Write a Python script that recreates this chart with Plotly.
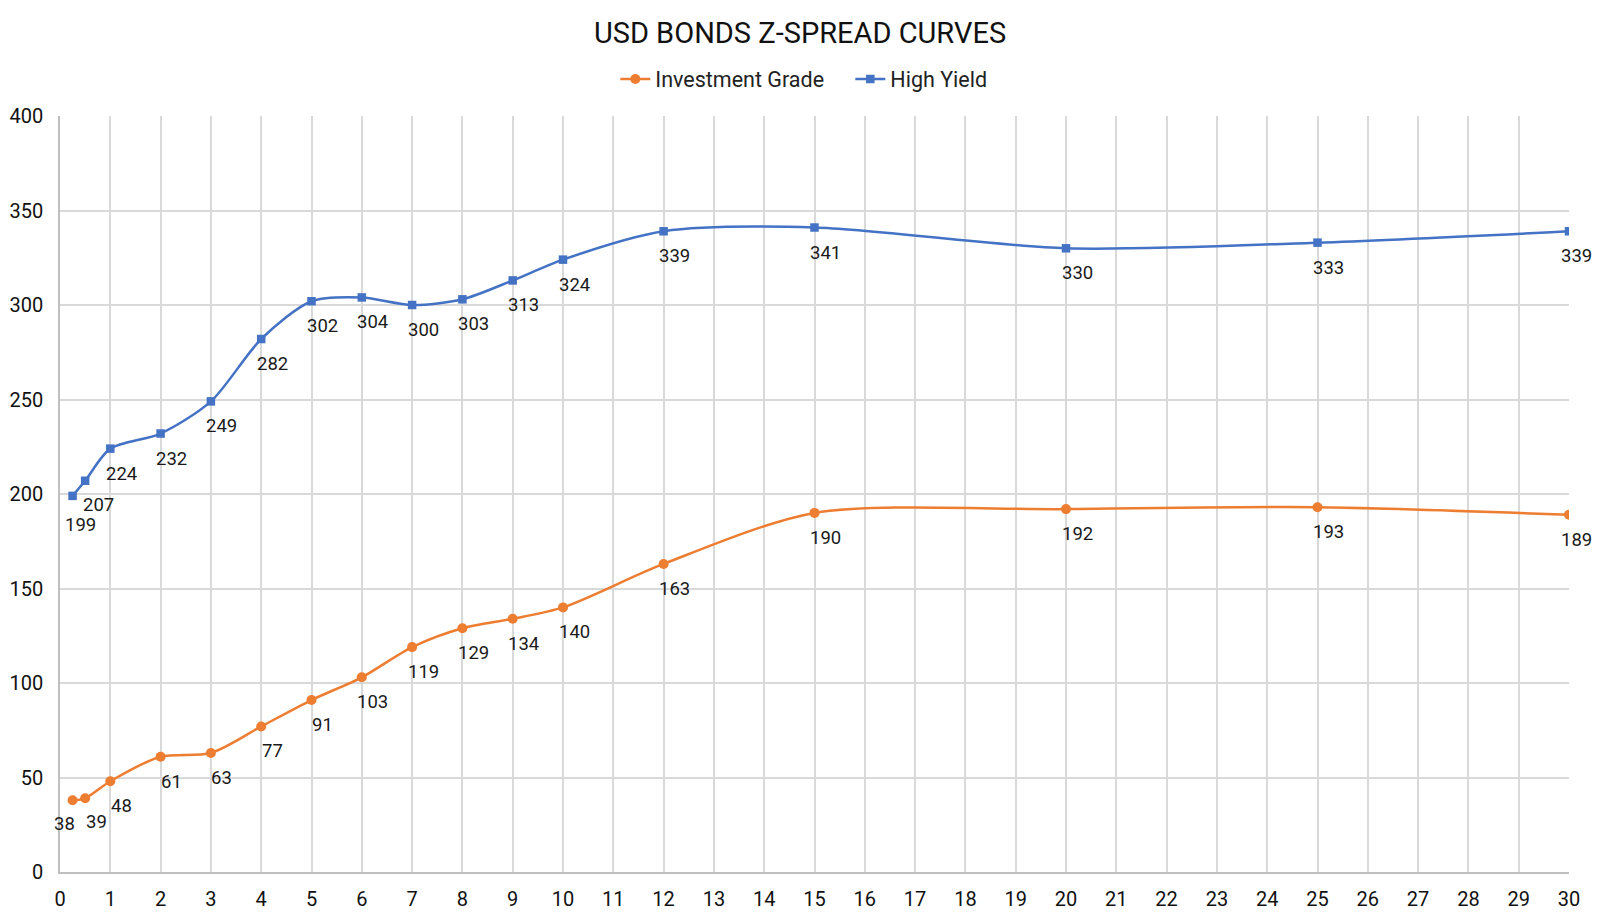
import plotly.graph_objects as go

# Tenors (years) and Z-spreads (bp)
tenors = [0.25, 0.5, 1, 2, 3, 4, 5, 6, 7, 8, 9, 10, 12, 15, 20, 25, 30]
ig_spread = [38, 39, 48, 61, 63, 77, 91, 103, 119, 129, 134, 140, 163, 190, 192, 193, 189]
hy_spread = [199, 207, 224, 232, 249, 282, 302, 304, 300, 303, 313, 324, 339, 341, 330, 333, 339]

FONT = "Roboto"
IG_COLOR = '#ED7D31'
HY_COLOR = '#4472C4'

# default label offset (px) and a few hand-nudged ones to avoid overlaps / edge
LABEL_DX, LABEL_DY = 11, -25
ig_nudge = {0.25: (-8, -24), 0.5: (11, -24), 30: (7, -25)}
hy_nudge = {0.25: (8, -29), 0.5: (13, -24), 30: (7, -25)}

fig = go.Figure()

fig.add_trace(go.Scatter(
    x=tenors, y=ig_spread,
    name='Investment Grade',
    mode='lines+markers',
    line=dict(color=IG_COLOR, width=2.5, shape='spline', smoothing=0.8),
    marker=dict(symbol='circle', size=10, color=IG_COLOR),
))

fig.add_trace(go.Scatter(
    x=tenors, y=hy_spread,
    name='High Yield',
    mode='lines+markers',
    line=dict(color=HY_COLOR, width=2.5, shape='spline', smoothing=0.8),
    marker=dict(symbol='square', size=8.5, color=HY_COLOR),
))

# data labels
for series, nudge in ((ig_spread, ig_nudge), (hy_spread, hy_nudge)):
    for t, v in zip(tenors, series):
        dx, dy = nudge.get(t, (LABEL_DX, LABEL_DY))
        fig.add_annotation(
            x=t, y=v, text=str(v), showarrow=False,
            xshift=dx, yshift=dy,
            font=dict(size=18.5, color='#1a1a1a', family=FONT)
        )

fig.update_layout(
    title=dict(text='USD BONDS Z-SPREAD CURVES', x=0.5, y=0.9726, xanchor='center',
               yanchor='middle', xref='container', yref='container',
               font=dict(size=29, color='#111111', family=FONT)),
    width=1584, height=903,
    paper_bgcolor='white', plot_bgcolor='white',
    margin=dict(l=52, r=23, t=108, b=39),
    legend=dict(orientation='h', x=0.368, xanchor='left', y=1.049, yanchor='middle',
                entrywidth=190, entrywidthmode='pixels',
                font=dict(size=21.5, color='#222222', family=FONT)),
    showlegend=True
)

fig.update_xaxes(
    range=[0, 30], dtick=1, tick0=0,
    showgrid=True, gridcolor='#d9d9d9', gridwidth=1.5,
    showline=True, linecolor='#bfbfbf', linewidth=1.5,
    zeroline=False, ticks='', ticklabelstandoff=8, automargin=False,
    tickfont=dict(size=20, color='#111111', family=FONT)
)
fig.update_yaxes(
    range=[0, 400], dtick=50,
    showgrid=True, gridcolor='#d9d9d9', gridwidth=1.5,
    showline=True, linecolor='#bfbfbf', linewidth=1.5,
    zeroline=False, ticks='', ticklabelstandoff=11, automargin=False,
    tickfont=dict(size=20, color='#111111', family=FONT)
)

fig.write_html("out.html")
